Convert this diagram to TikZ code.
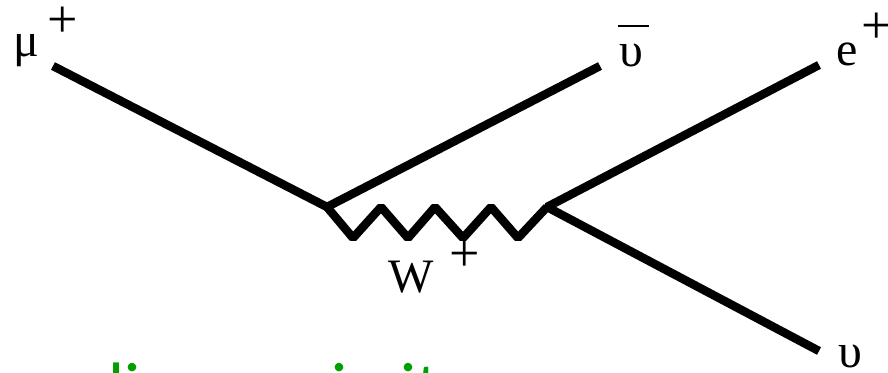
\documentclass[tikz,border=0pt]{standalone}
\usepackage{fontspec}
\setmainfont{Liberation Serif}
\newfontfamily\greenfont{Carlito}
\definecolor{capgreen}{RGB}{0,160,0}
\begin{document}
\begin{tikzpicture}[x=1pt,y=-1pt,
  prop/.style={line width=8.5pt,line cap=butt,line join=bevel},
  lbl/.style={inner sep=0pt,anchor=base,font=\fontsize{48}{48}\selectfont},
  sup/.style={inner sep=0pt,anchor=base,font=\fontsize{54}{54}\selectfont}]
\useasboundingbox (0,0) rectangle (888,372);
\clip (0,0) rectangle (888,372);
% vertices and ends
\coordinate (mu) at (53,66);
\coordinate (v1) at (327,207);
\coordinate (nb) at (600,66);
\coordinate (v2) at (547,207);
\coordinate (ep) at (819,65);
\coordinate (nu) at (819,351);
% fermion lines
\draw[prop] (mu) -- (v1) -- (nb);
\draw[prop] (ep) -- (v2) -- (nu);
% W zigzag
\draw[prop] (v1) -- ++(26,31) -- ++(28,-31) -- ++(27,31) -- ++(27,-31)
  -- ++(28,31) -- ++(28,-31) -- ++(27,31) -- (v2);
% labels
\node[lbl] (lmu) at (26,56) {μ};
\node[sup] (lmup) at (63,37) {+};
\node[lbl] (lnb) at (631,66) {υ};
\draw[line width=1.8pt] (618,26) -- (649,26);
\node[lbl] (le) at (847,65) {e};
\node[sup] (lep) at (877,43) {+};
\node[lbl] (lw) at (411,292) {W};
\node[sup] (lwp) at (465,271) {+};
\node[lbl] (lnu) at (850,367) {υ};
% caption, cut off at the bottom edge
\node[inner sep=0pt,anchor=base west,text=capgreen,font=\greenfont\fontsize{70}{70}\selectfont] (cap) at (108,411) {lines as in it};
\end{tikzpicture}
\end{document}
